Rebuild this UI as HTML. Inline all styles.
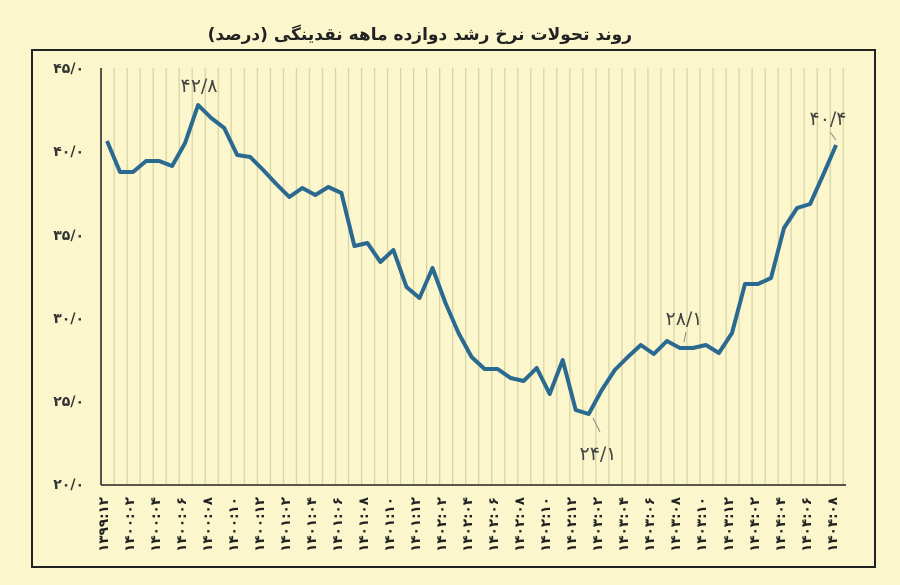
<!DOCTYPE html>
<html><head><meta charset="utf-8"><style>
html,body{margin:0;padding:0;background:#fbf6cb;}
svg{display:block}
</style></head><body>
<svg width="900" height="585" viewBox="0 0 900 585" xmlns="http://www.w3.org/2000/svg">
<defs>
<pattern id="gp" patternUnits="userSpaceOnUse" x="100.5" y="0" width="13.02" height="20">
<line x1="0.6" y1="0" x2="0.6" y2="20" stroke="#d6d4a6" stroke-width="1.3"/>
</pattern>
</defs>
<rect width="900" height="585" fill="#fbf6cb"/>
<text x="632" y="40" text-anchor="end" font-family="'DejaVu Sans',sans-serif" font-weight="bold" font-size="17" fill="#222">روند تحولات نرخ رشد دوازده ماهه نقدینگی (درصد)</text>
<rect x="32" y="50" width="843" height="517" fill="none" stroke="#222" stroke-width="2"/>
<rect x="101" y="68" width="745" height="416" fill="url(#gp)"/>
<line x1="101" y1="68" x2="101" y2="485" stroke="#222" stroke-width="1.5"/>
<line x1="101" y1="485" x2="846" y2="485" stroke="#222" stroke-width="1.5"/>
<g font-family="'DejaVu Sans',sans-serif" font-weight="bold" font-size="14" fill="#333" text-anchor="end">
<text x="84" y="73">۴۵/۰</text>
<text x="84" y="156">۴۰/۰</text>
<text x="84" y="240">۳۵/۰</text>
<text x="84" y="323">۳۰/۰</text>
<text x="84" y="406">۲۵/۰</text>
<text x="84" y="489">۲۰/۰</text>
</g>
<g font-family="'DejaVu Sans',sans-serif" font-weight="bold" font-size="13.5" fill="#222" text-anchor="end">
<text transform="translate(108,497) rotate(-90)">۱۳۹۹:۱۲</text>
<text transform="translate(134,497) rotate(-90)">۱۴۰۰:۰۲</text>
<text transform="translate(160,497) rotate(-90)">۱۴۰۰:۰۴</text>
<text transform="translate(186,497) rotate(-90)">۱۴۰۰:۰۶</text>
<text transform="translate(212,497) rotate(-90)">۱۴۰۰:۰۸</text>
<text transform="translate(238,497) rotate(-90)">۱۴۰۰:۱۰</text>
<text transform="translate(264,497) rotate(-90)">۱۴۰۰:۱۲</text>
<text transform="translate(290,497) rotate(-90)">۱۴۰۱:۰۲</text>
<text transform="translate(316,497) rotate(-90)">۱۴۰۱:۰۴</text>
<text transform="translate(342,497) rotate(-90)">۱۴۰۱:۰۶</text>
<text transform="translate(368,497) rotate(-90)">۱۴۰۱:۰۸</text>
<text transform="translate(394,497) rotate(-90)">۱۴۰۱:۱۰</text>
<text transform="translate(420,497) rotate(-90)">۱۴۰۱:۱۲</text>
<text transform="translate(446,497) rotate(-90)">۱۴۰۲:۰۲</text>
<text transform="translate(472,497) rotate(-90)">۱۴۰۲:۰۴</text>
<text transform="translate(498,497) rotate(-90)">۱۴۰۲:۰۶</text>
<text transform="translate(524,497) rotate(-90)">۱۴۰۲:۰۸</text>
<text transform="translate(550,497) rotate(-90)">۱۴۰۲:۱۰</text>
<text transform="translate(576,497) rotate(-90)">۱۴۰۲:۱۲</text>
<text transform="translate(602,497) rotate(-90)">۱۴۰۳:۰۲</text>
<text transform="translate(628,497) rotate(-90)">۱۴۰۳:۰۴</text>
<text transform="translate(654,497) rotate(-90)">۱۴۰۳:۰۶</text>
<text transform="translate(680,497) rotate(-90)">۱۴۰۳:۰۸</text>
<text transform="translate(706,497) rotate(-90)">۱۴۰۳:۱۰</text>
<text transform="translate(733,497) rotate(-90)">۱۴۰۳:۱۲</text>
<text transform="translate(759,497) rotate(-90)">۱۴۰۴:۰۲</text>
<text transform="translate(785,497) rotate(-90)">۱۴۰۴:۰۴</text>
<text transform="translate(811,497) rotate(-90)">۱۴۰۴:۰۶</text>
<text transform="translate(837,497) rotate(-90)">۱۴۰۴:۰۸</text>
</g>
<polyline fill="none" stroke="#2b6a90" stroke-width="4" stroke-linejoin="round" points="107,141 120,172 133,172 146.1,161 159.1,161 172.1,166 185.1,143 198.1,105 211.2,118 224.2,128 237.2,155 250.2,157 263.2,170 276.3,184 289.3,197 302.3,188 315.3,195 328.3,187 341.4,193 354.4,246 367.4,243 380.4,262 393.4,250 406.5,287 419.5,298 432.5,268 445.5,303 458.5,333 471.6,357 484.6,369 497.6,369 510.6,378 523.6,381 536.7,368 549.7,394 562.7,360 575.7,410 588.7,414 601.8,390 614.8,370 627.8,357 640.8,345 653.8,354 666.9,341 679.9,348 692.9,348 705.9,345 718.9,353 732,333 745,284 758,284 771,278 784,228 797.1,208 810.1,204 823.1,175 836.1,145"/>
<g stroke="#888" stroke-width="1">
<line x1="593" y1="418" x2="600" y2="432"/>
<line x1="684" y1="342" x2="686" y2="332"/>
<line x1="836" y1="140" x2="830" y2="132"/>
</g>
<g font-family="'DejaVu Sans',sans-serif" font-size="19" fill="#444" text-anchor="middle">
<text x="199" y="92">۴۲/۸</text>
<text x="598" y="460">۲۴/۱</text>
<text x="684" y="325">۲۸/۱</text>
<text x="828" y="125">۴۰/۴</text>
</g>
</svg>
</body></html>
